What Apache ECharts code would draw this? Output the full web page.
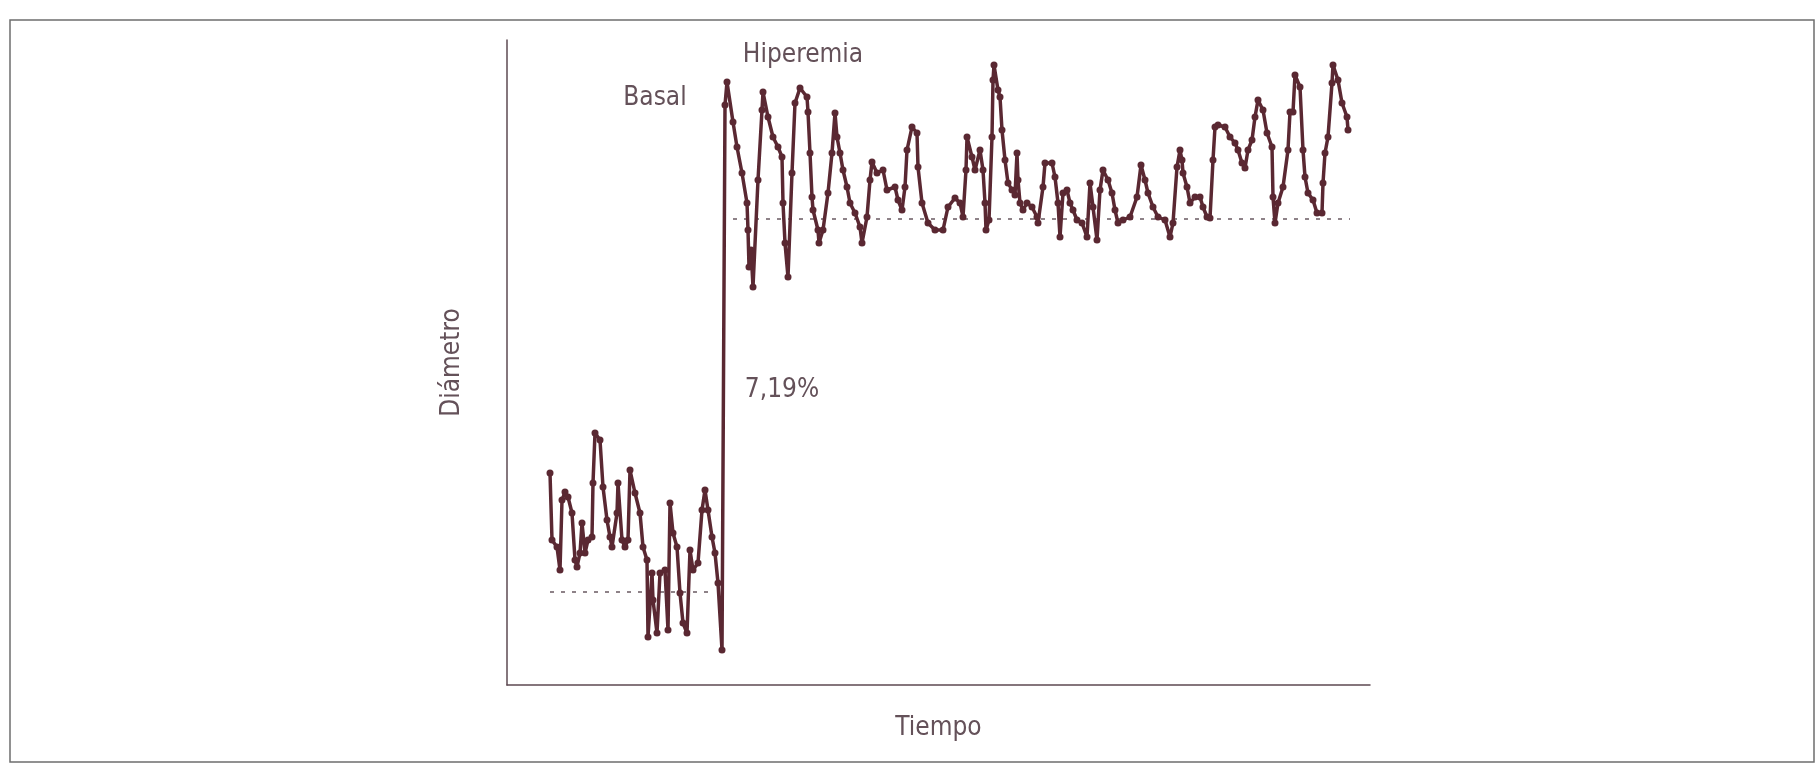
<!DOCTYPE html>
<html>
<head>
<meta charset="utf-8">
<script src="https://cdn.jsdelivr.net/npm/echarts@6/dist/echarts.min.js"></script>
<style>
html,body{margin:0;padding:0;background:#fff;}
#chart{width:1816px;height:773px;}
</style>
</head>
<body>
<div id="chart"></div>
<script>
// Time (arbitrary units) and diameter (arbitrary units)
const basalTime = [43,45,50,53,55,58,61,65,68,70,73,75,78,81,85,86,88,93,96,100,103,105,110,111,115,118,121,123,128,133,136,140,141,145,146,150,153,158,161,163,166,170,173,176,180,183,186,191,195,198,201,205,208,211,215];
const basalDiam = [212,145,138,115,185,193,188,172,125,118,132,162,132,145,148,202,252,245,198,165,148,138,172,202,145,138,145,215,192,172,138,125,48,112,85,52,112,115,55,182,152,138,92,62,52,135,115,122,175,195,175,148,132,102,35];

const hyperTime = [218,220,226,230,235,240,241,242,244,246,251,255,256,261,266,271,275,276,278,281,285,288,293,300,301,303,305,306,311,312,316,321,325,328,330,333,336,340,343,348,353,355,360,363,365,370,376,380,388,391,395,398,400,405,410,411,415,421,428,436,441,448,453,456,459,460,465,468,473,476,478,479,482,485,486,487,491,493,495,498,501,505,508,510,511,513,516,520,525,530,531,536,538,545,548,551,553,556,560,563,566,570,575,580,583,586,590,593,596,601,605,608,611,616,623,630,634,638,641,646,651,658,663,666,670,673,675,676,680,683,688,693,696,700,703,706,708,711,718,723,728,731,735,738,741,745,748,751,756,760,765,766,768,771,776,781,783,786,788,793,796,798,801,806,810,815,816,818,821,825,826,831,835,840,841];
const hyperDiam = [580,603,563,538,512,482,455,418,435,398,505,575,593,568,548,538,528,482,442,408,512,582,597,588,573,532,488,475,455,442,455,492,532,572,548,532,515,498,482,472,458,442,468,505,523,512,515,495,498,485,475,498,535,558,552,518,482,462,455,455,478,487,482,468,515,548,528,515,535,515,482,455,465,548,605,620,595,588,555,525,502,495,490,532,505,482,475,482,478,468,462,498,522,522,508,482,448,492,495,482,475,465,462,448,502,478,445,495,515,505,492,475,462,465,468,488,520,505,492,478,468,465,448,462,518,535,525,512,498,482,488,488,478,468,467,525,558,560,558,548,542,535,522,517,535,545,568,585,575,552,538,488,462,482,498,535,573,573,610,598,535,508,492,485,472,472,502,532,548,602,620,605,582,568,555];

// Dashed reference levels
const basalRefTime = [43,206];
const basalRefDiam = [93,93];
const hyperRefTime = [226,843];
const hyperRefDiam = [466,466];

const labels = { x: 'Tiempo', y: 'Diámetro', basal: 'Basal', hyper: 'Hiperemia', change: '7,19%' };

const traceTime = basalTime.concat(hyperTime);
const traceDiam = basalDiam.concat(hyperDiam);
const trace = traceTime.map((t, i) => [t, traceDiam[i]]);
const pair = (a, b) => a.map((t, i) => [t, b[i]]);

const LINE = '#5a2832';
const AXIS = '#5d4a52';
const TXT = '#645159';
const FONT = "'Liberation Sans Narrow','Arial Narrow','DejaVu Sans Condensed','Liberation Sans',sans-serif";
const FS = 26;

const chart = echarts.init(document.getElementById('chart'), null, { renderer: 'canvas' });
chart.setOption({
  backgroundColor: '#ffffff',
  animation: false,
  grid: { left: 507, right: 446, top: 40, bottom: 88 },
  xAxis: {
    type: 'value', min: 0, max: 863,
    name: labels.x, nameLocation: 'middle', nameGap: 30,
    nameTextStyle: { color: TXT, fontSize: FS, fontFamily: FONT },
    axisLine: { show: true, onZero: false, lineStyle: { color: AXIS, width: 1.5 } },
    axisTick: { show: false }, axisLabel: { show: false }, splitLine: { show: false }
  },
  yAxis: {
    type: 'value', min: 0, max: 645,
    name: labels.y, nameLocation: 'middle', nameGap: 42, nameRotate: 90,
    nameTextStyle: { color: TXT, fontSize: FS, fontFamily: FONT },
    axisLine: { show: true, onZero: false, lineStyle: { color: AXIS, width: 1.5 } },
    axisTick: { show: false }, axisLabel: { show: false }, splitLine: { show: false }
  },
  series: [
    {
      type: 'line', data: trace, showSymbol: true, symbol: 'circle', symbolSize: 7,
      lineStyle: { color: LINE, width: 3.5 }, itemStyle: { color: LINE },
      z: 3
    },
    {
      type: 'line', data: pair(basalRefTime, basalRefDiam), showSymbol: false,
      lineStyle: { color: '#6a5a62', width: 1.5, type: [4, 7] }, z: 2
    },
    {
      type: 'line', data: pair(hyperRefTime, hyperRefDiam), showSymbol: false,
      lineStyle: { color: '#6a5a62', width: 1.5, type: [4, 7] }, z: 2
    }
  ],
  graphic: [
    { type: 'rect', shape: { x: 10, y: 20, width: 1804, height: 742 },
      style: { fill: 'none', stroke: '#6e6e6e', lineWidth: 1.5 }, silent: true },
    { type: 'text', x: 655, y: 98, style: { text: labels.basal, fill: TXT, font: FS + 'px ' + FONT, textAlign: 'center', textVerticalAlign: 'middle' } },
    { type: 'text', x: 803, y: 55, style: { text: labels.hyper, fill: TXT, font: FS + 'px ' + FONT, textAlign: 'center', textVerticalAlign: 'middle' } },
    { type: 'text', x: 782, y: 390, style: { text: labels.change, fill: TXT, font: FS + 'px ' + FONT, textAlign: 'center', textVerticalAlign: 'middle' } }
  ]
});
</script>
</body>
</html>
